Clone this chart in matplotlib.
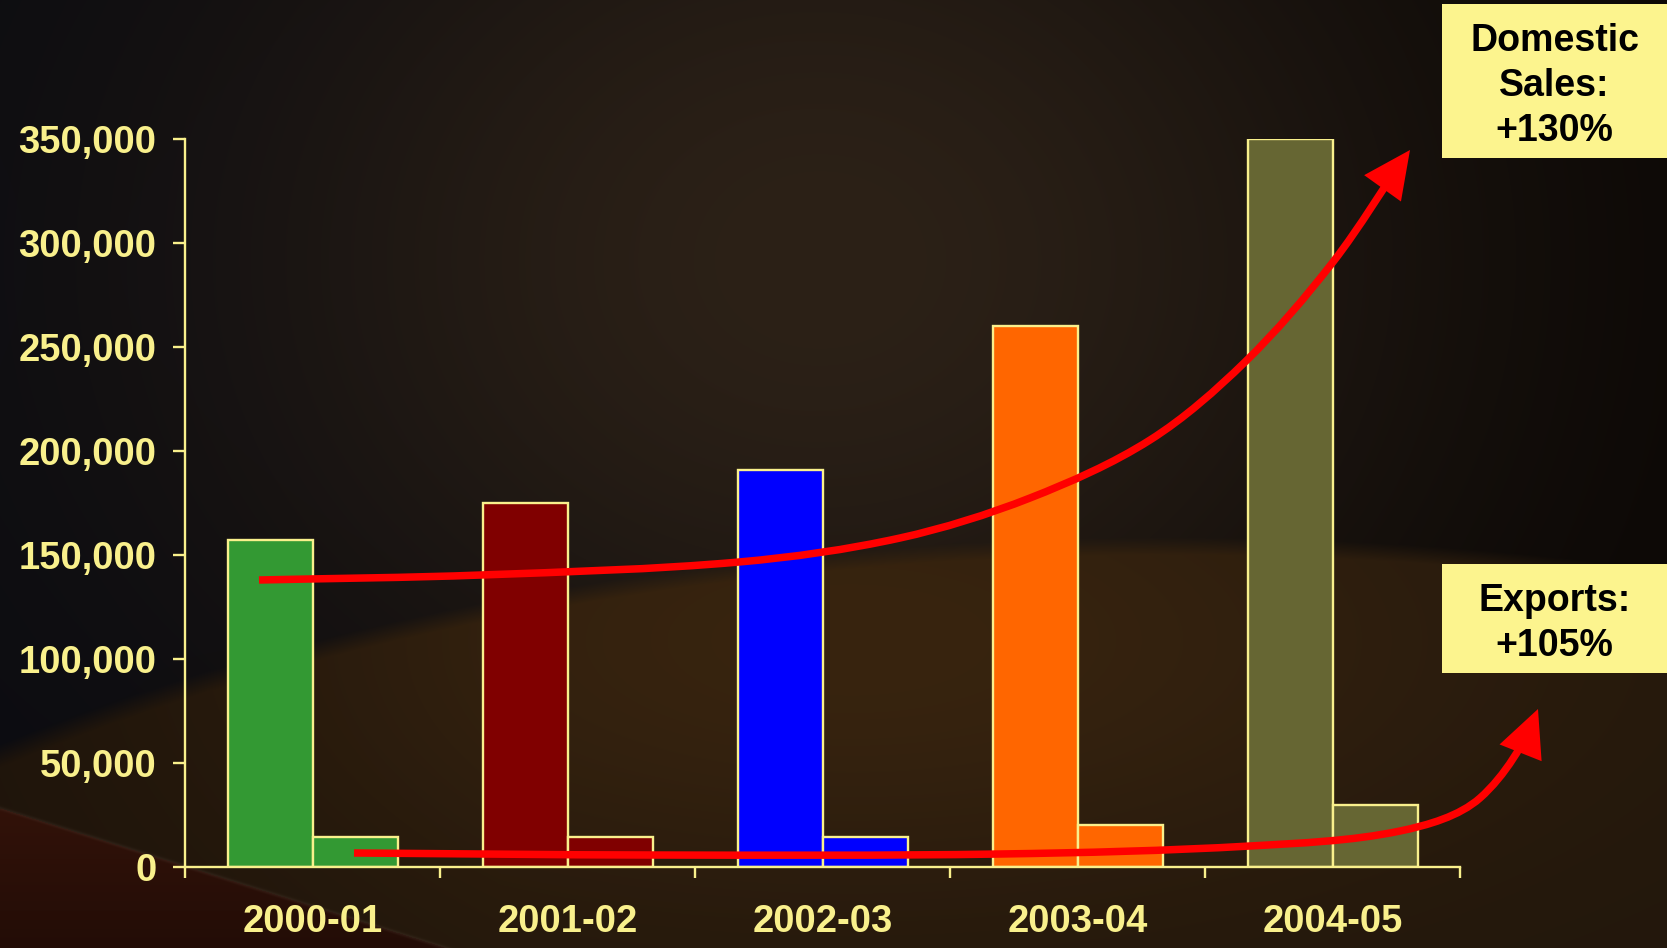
import numpy as np
import matplotlib
matplotlib.use("Agg")
import matplotlib.pyplot as plt
from matplotlib.path import Path
from matplotlib.patches import FancyArrowPatch, Rectangle, ArrowStyle
from matplotlib.ticker import FuncFormatter, FixedLocator

# ---------------- data ----------------
years = ["2000-01", "2001-02", "2002-03", "2003-04", "2004-05"]
domestic = [157000, 175000, 191000, 260000, 350000]
exports = [14500, 14500, 14500, 20000, 30000]
bar_colors = ["#339933", "#800000", "#0000FF", "#FF6600", "#666633"]
yticks = [0, 50000, 100000, 150000, 200000, 250000, 300000, 350000]
domestic_note = "Domestic\nSales:\n+130%"
exports_note = "Exports:\n+105%"

W, H = 1667, 948
YEL = "#F9F08C"
BOX = "#FCF48E"
FONT = "Liberation Sans"

fig = plt.figure(figsize=(W / 100, H / 100), dpi=100)

# ---------------- background ----------------
yy, xx = np.mgrid[0:H, 0:W].astype(float)
left = np.array([10, 11, 17.0])
right = np.array([9, 6, 4.0])
t = np.clip(xx / W, 0, 1)[..., None]
img = left * (1 - t) + right * t
glow = np.exp(-(((xx - 820) / 620) ** 2 + ((yy - 260) / 520) ** 2))[..., None]
img = img * (1 - glow) + np.array([44, 33, 23.0]) * glow
# large soft arc
cx, cy, a, b = 1170, 1400, 1801, 863
ell = ((xx - cx) / a) ** 2 + ((yy - cy) / b) ** 2
inside = np.clip((1 - ell) / 0.04, 0, 1)[..., None]
arc_glow = np.exp(-(((xx - 850) / 650) ** 2 + ((yy - 640) / 260) ** 2))[..., None]
arc_col = np.array([34, 23, 12.0]) * (1 - arc_glow) + np.array([56, 36, 15.0]) * arc_glow
leftdark = np.clip(1 - xx / 500, 0, 1)[..., None] * 0.35
arc_col = arc_col * (1 - leftdark) + np.array([22, 14, 9.0]) * leftdark
img = img * (1 - inside) + arc_col * inside
# bottom-left reddish band
line_y = 808 + (948 - 808) * xx / 447
band = yy > line_y
bt = np.clip((yy - 808) / 140, 0, 1)[..., None]
band_col = np.array([50, 18, 9.0]) * (1 - bt * 0.3)
img = np.where(band[..., None], band_col, img)
edge = np.exp(-((yy - line_y) / 2.0) ** 2)[..., None] * 0.22
img = img * (1 - edge) + np.array([90, 70, 60.0]) * edge

bg = fig.add_axes([0, 0, 1, 1], zorder=-10)
bg.imshow(np.clip(img, 0, 255).astype(np.uint8), aspect="auto", extent=(0, 1, 0, 1))
bg.set_axis_off()

# ---------------- main axes ----------------
ax_l, ax_r, ax_b, ax_t = 185, 1460, 867, 139
ax = fig.add_axes([ax_l / W, 1 - ax_b / H, (ax_r - ax_l) / W, (ax_b - ax_t) / H])
ax.patch.set_alpha(0)

x = np.arange(len(years))
w = 1 / 3
ax.bar(x - w, domestic, width=w, align="edge", color=bar_colors,
       edgecolor=YEL, linewidth=1.7, zorder=2)
ax.bar(x, exports, width=w, align="edge", color=bar_colors,
       edgecolor=YEL, linewidth=1.7, zorder=2)

ax.set_xlim(-0.5, len(years) - 0.5)
ax.set_ylim(0, 350000)
for s in ["top", "right"]:
    ax.spines[s].set_visible(False)
for s in ["left", "bottom"]:
    ax.spines[s].set_color(YEL)
    ax.spines[s].set_linewidth(1.7)

ax.set_yticks(yticks)
ax.yaxis.set_major_formatter(FuncFormatter(lambda v, p: f"{int(v):,}"))
ax.tick_params(axis="y", direction="out", length=8.6, width=1.7, color=YEL,
               labelcolor=YEL, labelsize=27.5, pad=12)

ax.xaxis.set_major_locator(FixedLocator(np.arange(len(years) + 1) - 0.5))
ax.xaxis.set_major_formatter(FuncFormatter(lambda v, p: ""))
ax.xaxis.set_minor_locator(FixedLocator(x))
ax.set_xticklabels(years, minor=True)
ax.tick_params(axis="x", which="major", direction="out", length=8, width=1.7, color=YEL)
ax.tick_params(axis="x", which="minor", length=0, labelcolor=YEL, labelsize=27.5, pad=27)

for lab in ax.get_yticklabels() + ax.get_xticklabels(minor=True):
    lab.set_fontfamily(FONT)
    lab.set_fontweight("bold")

# ---------------- arrows (decoration, pixel coords) ----------------
def smooth_path(pts, end_dir=None):
    P = np.asarray(pts, float)
    n = len(P)
    d = np.r_[0, np.cumsum(np.hypot(*np.diff(P, axis=0).T))]
    m = np.zeros_like(P)
    for i in range(n):
        if i == 0:
            m[i] = (P[1] - P[0]) / (d[1] - d[0])
        elif i == n - 1:
            if end_dir is not None:
                e = np.asarray(end_dir, float)
                m[i] = e / np.hypot(*e)
            else:
                m[i] = (P[-1] - P[-2]) / (d[-1] - d[-2])
        else:
            m[i] = (P[i + 1] - P[i - 1]) / (d[i + 1] - d[i - 1])
    verts = [P[0]]
    codes = [Path.MOVETO]
    for i in range(n - 1):
        h = d[i + 1] - d[i]
        verts += [P[i] + m[i] * h / 3, P[i + 1] - m[i + 1] * h / 3, P[i + 1]]
        codes += [Path.CURVE4] * 3
    verts = np.array(verts)
    verts[:, 0] = verts[:, 0] / W
    verts[:, 1] = 1 - verts[:, 1] / H
    return Path(verts, codes)

dom_pts = [(259, 580), (481, 575), (739, 562), (900, 538), (1030, 498),
           (1150, 440), (1245, 362), (1333, 262), (1410, 150)]
exp_pts = [(354, 853), (650, 855), (1000, 854), (1250, 846), (1400, 831),
           (1480, 798), (1538, 709)]

for pts, ed in ((dom_pts, (0.58, -0.81)), (exp_pts, (0.37, -0.93))):
    arr = FancyArrowPatch(path=smooth_path(pts, ed),
                          arrowstyle=ArrowStyle("-|>", head_length=25, head_width=12),
                          color="#FF0000", linewidth=5.4, capstyle="butt",
                          joinstyle="miter", transform=fig.transFigure, zorder=5)
    fig.add_artist(arr)

# ---------------- note boxes ----------------
def note(x0, y0, x1, y1, text):
    fig.add_artist(Rectangle((x0 / W, 1 - y1 / H), (x1 - x0) / W, (y1 - y0) / H,
                             transform=fig.transFigure, facecolor=BOX,
                             edgecolor="none", zorder=6))
    fig.text((x0 + x1) / 2 / W, 1 - ((y0 + y1) / 2 + 5) / H, text, ha="center",
             va="center", fontsize=27, fontweight="bold", family=FONT,
             color="black", linespacing=1.32, zorder=7)

note(1442, 4, 1667, 158, domestic_note)
note(1442, 564, 1667, 673, exports_note)

fig.savefig("out.png", dpi=100)
